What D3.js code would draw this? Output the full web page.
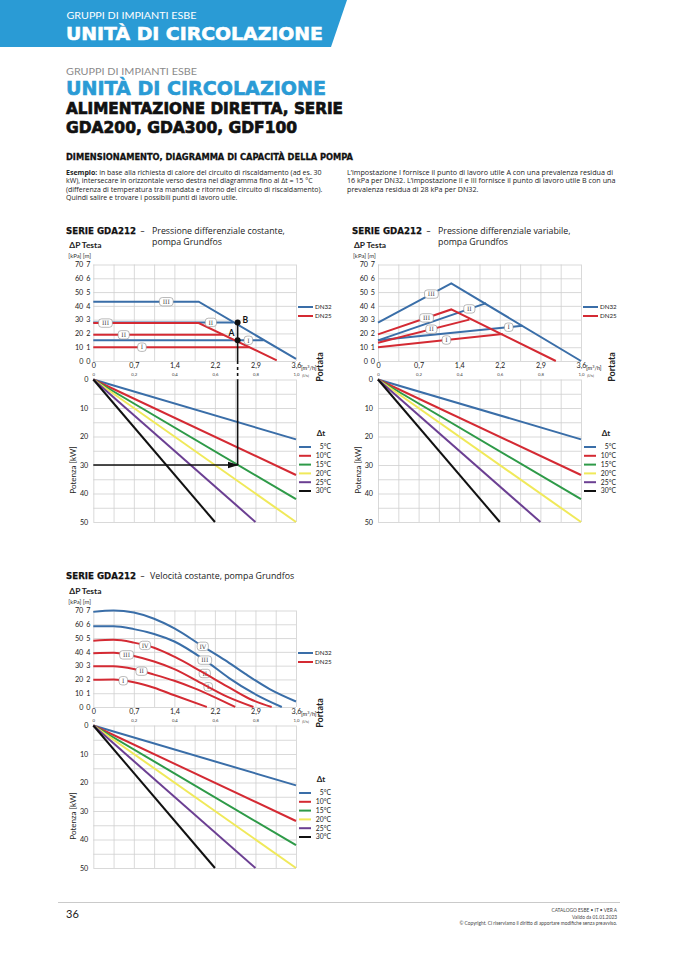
<!DOCTYPE html>
<html>
<head>
<meta charset="utf-8">
<script src="https://cdn.jsdelivr.net/npm/d3@7"></script>
<style>
  body { margin: 0; background: #fff; }
  svg { display: block; font-family: Lato, "Open Sans", sans-serif; }
  .grid line { stroke: #cfcfcf; stroke-width: 0.8; }
  .grid path { display: none; }
  .ax path { display: none; }
  .ax line { display: none; }
</style>
</head>
<body>
<svg id="page" width="678" height="959"></svg>
<script>
// ---- data ----
const flowTicks = [0, 0.2, 0.4, 0.6, 0.8, 1.0];            // l/s
const flowM3hLabels = ["0", "0,7", "1,4", "2,2", "2,9", "3,6"];
const flowLsLabels = ["0", "0,2", "0,4", "0,6", "0,8", "1,0"];
const flowGrid = [0, 0.1, 0.2, 0.3, 0.4, 0.5, 0.6, 0.7, 0.8, 0.9, 1.0];
const headTicks = [0, 10, 20, 30, 40, 50, 60, 70];          // kPa
const headMLabels = ["0", "1", "2", "3", "4", "5", "6", "7"];
const powerTicks = [0, 10, 20, 30, 40, 50];                 // kW
const powerGrid = [0, 5, 10, 15, 20, 25, 30, 35, 40, 45, 50];

const deltaT = ["5°C", "10°C", "15°C", "20°C", "25°C", "30°C"];
const deltaColors = ["#3a6ea8", "#d42a33", "#2e9a48", "#f0e95a", "#6b3f92", "#111111"];
// end point of each power line (flow l/s, power kW), all start at 0,0
const powerEnds = [[1.0, 21], [1.0, 33.5], [1.0, 42], [1.0, 50], [0.8, 50], [0.6, 50]];

const dnSeries = ["DN32", "DN25"];
const dnColors = ["#3a6ea8", "#d42a33"];

// constant differential pressure (flow l/s, head kPa)
const constDN32 = [
  { setting: "III", points: [[0, 43], [0.52, 43], [1.0, 1.5]], labelAt: 0.36 },
  { setting: "II",  points: [[0, 28], [0.69, 28]], labelAt: 0.58 },
  { setting: "I",   points: [[0, 15], [0.84, 15]], labelAt: 0.765 }
];
const constDN25 = [
  { setting: "III", points: [[0, 27.5], [0.52, 27.5], [0.905, 0.5]], labelAt: 0.06 },
  { setting: "II",  points: [[0, 19], [0.641, 19]], labelAt: 0.15 },
  { setting: "I",   points: [[0, 10], [0.77, 10]], labelAt: 0.24 }
];
const workPoints = [{ name: "A", flow: 0.712, head: 15 }, { name: "B", flow: 0.712, head: 28 }];
const examplePower = 30;

// variable differential pressure
const varDN32 = [
  { setting: "III", points: [[0, 27.8], [0.361, 56.3], [1.0, 0]], labelAt: 0.263 },
  { setting: "II",  points: [[0, 15], [0.533, 42]], labelAt: 0.45 },
  { setting: "I",   points: [[0, 15], [0.712, 25.5]], labelAt: 0.644 }
];
const varDN25 = [
  { setting: "III", points: [[0, 19.3], [0.361, 37.4], [0.876, 0]], labelAt: 0.239 },
  { setting: "II",  points: [[0, 13.3], [0.45, 30]], labelAt: 0.263 },
  { setting: "I",   points: [[0, 10], [0.614, 19.5]], labelAt: 0.337 }
];

// constant speed
const speedDN32 = [
  { setting: "IV",  points: [[0, 69], [0.1, 70], [0.2, 68.5], [0.3, 64], [0.4, 57], [0.54, 44], [0.65, 34], [0.75, 24], [0.87, 13], [1.0, 4]], labelAt: 0.54 },
  { setting: "III", points: [[0, 58.5], [0.1, 58.5], [0.2, 56.5], [0.3, 53], [0.4, 47.5], [0.55, 34], [0.67, 21], [0.79, 10], [0.93, 0]], labelAt: 0.55 }
];
const speedDN25 = [
  { setting: "IV",  points: [[0, 48], [0.1, 48.7], [0.2, 46.7], [0.3, 43], [0.4, 36.5], [0.53, 26], [0.66, 15], [0.77, 6], [0.88, 0]], labelAt: 0.255 },
  { setting: "III", points: [[0, 39], [0.1, 39.3], [0.2, 37], [0.3, 33], [0.4, 27.5], [0.53, 17.5], [0.66, 7.5], [0.79, 0]], labelAt: 0.164 },
  { setting: "II",  points: [[0, 29.5], [0.1, 29.5], [0.2, 27.5], [0.3, 23.5], [0.4, 19], [0.5, 13.5], [0.6, 7], [0.7, 0]], labelAt: 0.238 },
  { setting: "I",   points: [[0, 19.7], [0.1, 20], [0.2, 18], [0.3, 14], [0.4, 8.5], [0.56, 0]], labelAt: 0.148 }
];
// extra DN32 badges sitting on the DN25 curves (index into speedDN25)
const speedExtraLabels = [{ text: "II", curve: 0, at: 0.55 }, { text: "I", curve: 1, at: 0.567 }];

const BLUE = "#2a9bd5";
const svg = d3.select("#page");

// heavy heading text (stroke thickens DejaVu bold to look like the catalogue font)
function heading(x, y, size, fill, len, txt, sw) {
  return svg.append("text").attr("x", x).attr("y", y).attr("font-size", size).attr("font-weight", "bold")
    .attr("font-family", "DejaVu Sans").attr("fill", fill).attr("stroke", fill).attr("stroke-width", sw)
    .attr("textLength", len).attr("lengthAdjust", "spacingAndGlyphs").text(txt);
}

// ---- header ----
svg.append("path").attr("d", "M0,0H347L331,47H0Z").attr("fill", BLUE);
svg.append("text").attr("x", 66.5).attr("y", 19.3).attr("font-size", 9.5).attr("fill", "#fff")
  .attr("textLength", 130).attr("lengthAdjust", "spacingAndGlyphs").text("GRUPPI DI IMPIANTI ESBE");
heading(66, 39.5, 18.5, "#fff", 257, "UNITÀ DI CIRCOLAZIONE", 0.6);

svg.append("text").attr("x", 66).attr("y", 74.5).attr("font-size", 9.5).attr("fill", "#8a8a8a")
  .attr("textLength", 131).attr("lengthAdjust", "spacingAndGlyphs").text("GRUPPI DI IMPIANTI ESBE");
heading(66, 95, 19.5, BLUE, 260, "UNITÀ DI CIRCOLAZIONE", 0.6);
heading(66, 114, 16, "#111", 277, "ALIMENTAZIONE DIRETTA, SERIE", 0.7);
heading(66, 132.5, 16, "#111", 231, "GDA200, GDA300, GDF100", 0.7);
heading(66, 160, 9, "#111", 287, "DIMENSIONAMENTO, DIAGRAMMA DI CAPACITÀ DELLA POMPA", 0.3);

const leftPara = [
  "in base alla richiesta di calore del circuito di riscaldamento (ad es. 30",
  "kW), intersecare in orizzontale verso destra nel diagramma fino al Δt = 15 °C",
  "(differenza di temperatura tra mandata e ritorno del circuito di riscaldamento).",
  "Quindi salire e trovare i possibili punti di lavoro utile."
];
const rightPara = [
  "L’impostazione I fornisce il punto di lavoro utile A con una prevalenza residua di",
  "16 kPa per DN32. L’impostazione II e III fornisce il punto di lavoro utile B con una",
  "prevalenza residua di 28 kPa per DN32."
];
leftPara.forEach(function(line, i) {
  let t = svg.append("text").attr("x", 66).attr("y", 174.5 + i * 8.6).attr("font-size", 7)
    .attr("font-family", "Open Sans").attr("fill", "#222");
  if (i == 0) t.append("tspan").attr("font-weight", "bold").text("Esempio: ");
  t.append("tspan").text(line);
});
rightPara.forEach(function(line, i) {
  svg.append("text").attr("x", 347).attr("y", 174.5 + i * 8.6).attr("font-size", 7.2)
    .attr("font-family", "Open Sans").attr("fill", "#222").text(line);
});

// ---- helpers ----
function headAt(points, fx) {
  for (let i = 0; i < points.length - 1; i++) {
    let a = points[i], b = points[i + 1];
    if (fx >= a[0] && fx <= b[0]) return a[1] + (b[1] - a[1]) * (fx - a[0]) / (b[0] - a[0]);
  }
  return points[points.length - 1][1];
}

function badge(g, cx, cy, text) {
  let w = text.length * 2.6 + 6;
  let b = g.append("g").attr("transform", "translate(" + cx + "," + cy + ")");
  b.append("rect").attr("x", -w / 2).attr("y", -4.2).attr("width", w).attr("height", 8.4).attr("rx", 3)
    .attr("fill", "#fff").attr("stroke", "#8c8c8c").attr("stroke-width", 0.6);
  b.append("text").attr("text-anchor", "middle").attr("y", 2.2).attr("font-size", 6)
    .attr("font-family", "DejaVu Serif").attr("fill", "#444").text(text);
}

// ---- one chart block (head diagram + power diagram) ----
function drawChart(cfg) {
  const dy = cfg.dy;
  const g = svg.append("g");
  const headTop = 264.5 + dy, headBottom = 361 + dy;
  const powTop = 379.5 + dy, powBottom = 522 + dy;

  const x = d3.scaleLinear().domain([0, 1]).range([cfg.x0, cfg.x1]);
  const yHead = d3.scaleLinear().domain([0, 70]).range([headBottom, headTop]);
  const yPow = d3.scaleLinear().domain([0, 50]).range([powTop, powBottom]);

  // titles
  g.append("text").attr("x", cfg.titleX).attr("y", cfg.titleY).attr("font-size", 8.6).attr("font-weight", "bold")
    .attr("font-family", "DejaVu Sans").attr("fill", "#111").attr("stroke", "#111").attr("stroke-width", 0.25)
    .attr("textLength", 70).attr("lengthAdjust", "spacingAndGlyphs").text("SERIE GDA212");
  g.append("text").attr("x", cfg.titleX + 74).attr("y", cfg.titleY).attr("font-size", 8.6).attr("fill", "#111").text("–");
  cfg.subtitle.forEach(function(s, i) {
    g.append("text").attr("x", cfg.subX).attr("y", cfg.titleY + i * 11).attr("font-size", 8.8)
      .attr("font-family", "Open Sans").attr("fill", "#222").text(s);
  });
  g.append("text").attr("x", cfg.x0 - 24).attr("y", headTop - 17).attr("font-size", 8.4).attr("font-weight", "bold")
    .attr("fill", "#222").text("ΔP Testa");
  g.append("text").attr("x", cfg.x0 - 25).attr("y", headTop - 6.5).attr("font-size", 6).attr("fill", "#333").text("[kPa] [m]");

  // grids
  g.append("g").attr("class", "grid").attr("transform", "translate(0," + headBottom + ")")
    .call(d3.axisBottom(x).tickValues(flowGrid).tickSize(-(headBottom - headTop)).tickFormat(""));
  g.append("g").attr("class", "grid").attr("transform", "translate(" + cfg.x0 + ",0)")
    .call(d3.axisLeft(yHead).tickValues(headTicks).tickSize(-(cfg.x1 - cfg.x0)).tickFormat(""));
  g.append("g").attr("class", "grid").attr("transform", "translate(0," + powBottom + ")")
    .call(d3.axisBottom(x).tickValues(flowGrid).tickSize(-(powBottom - powTop)).tickFormat(""));
  g.append("g").attr("class", "grid").attr("transform", "translate(" + cfg.x0 + ",0)")
    .call(d3.axisLeft(yPow).tickValues(powerGrid).tickSize(-(cfg.x1 - cfg.x0)).tickFormat(""));

  // axes labels
  g.append("g").attr("class", "ax").attr("transform", "translate(" + (cfg.x0 - 10) + ",0)")
    .call(d3.axisLeft(yHead).tickValues(headTicks).tickSize(0).tickPadding(0))
    .selectAll("text").attr("font-size", 7.2).attr("fill", "#222").attr("font-family", "Lato");
  g.append("g").attr("class", "ax").attr("transform", "translate(" + (cfg.x0 - 3) + ",0)")
    .call(d3.axisLeft(yHead).tickValues(headTicks).tickSize(0).tickPadding(0).tickFormat((d, i) => headMLabels[i]))
    .selectAll("text").attr("font-size", 7.2).attr("fill", "#222").attr("font-family", "Lato");
  g.append("g").attr("class", "ax").attr("transform", "translate(0," + (headBottom + 2) + ")")
    .call(d3.axisBottom(x).tickValues(flowTicks).tickSize(0).tickPadding(0).tickFormat((d, i) => flowM3hLabels[i]))
    .selectAll("text").attr("font-size", 7.2).attr("fill", "#222").attr("font-family", "Lato");
  g.append("g").attr("class", "ax").attr("transform", "translate(0," + (headBottom + 12) + ")")
    .call(d3.axisBottom(x).tickValues(flowTicks).tickSize(0).tickPadding(0).tickFormat((d, i) => flowLsLabels[i]))
    .selectAll("text").attr("font-size", 4.3).attr("fill", "#444").attr("font-family", "Lato");
  g.append("text").attr("x", cfg.x1 + 5).attr("y", headBottom + 8.5).attr("font-size", 5.6).attr("fill", "#222")
    .html("[m<tspan dy='-2' font-size='3.8'>3</tspan><tspan dy='2'>/h]</tspan>");
  g.append("text").attr("x", cfg.x1 + 6).attr("y", headBottom + 15.5).attr("font-size", 4.3).attr("fill", "#444").text("[l/s]");
  g.append("g").attr("class", "ax").attr("transform", "translate(" + (cfg.x0 - 5) + ",0)")
    .call(d3.axisLeft(yPow).tickValues(powerTicks).tickSize(0).tickPadding(0))
    .selectAll("text").attr("font-size", 7.2).attr("fill", "#222").attr("font-family", "Lato");

  g.append("text").attr("transform", "translate(" + (cfg.x1 + cfg.portataDx) + "," + (367 + dy) + ") rotate(-90)")
    .attr("text-anchor", "middle").attr("font-size", 9).attr("font-weight", "bold").attr("fill", "#222").text("Portata");
  g.append("text").attr("transform", "translate(" + (cfg.x0 - 17) + "," + (470 + dy) + ") rotate(-90)")
    .attr("text-anchor", "middle").attr("font-size", 8).attr("fill", "#222").text("Potenza [kW]");

  // power lines
  const powLine = d3.line().x(d => x(d[0])).y(d => yPow(d[1]));
  g.selectAll(".pw").data(powerEnds).enter().append("path")
    .attr("d", d => powLine([[0, 0], d]))
    .attr("fill", "none").attr("stroke", (d, i) => deltaColors[i]).attr("stroke-width", 2);

  // head curves
  const headLine = d3.line().x(d => x(d[0])).y(d => yHead(d[1]))
    .curve(cfg.smooth ? d3.curveMonotoneX : d3.curveLinear);
  const groups = [cfg.dn32, cfg.dn25];
  if (cfg.extra) {
    cfg.extra.forEach(function(e) {
      let c = cfg.dn25[e.curve];
      badge(g, x(e.at), yHead(headAt(c.points, e.at)), e.text);
    });
  }
  groups.forEach(function(set, si) {
    set.forEach(function(c) {
      g.append("path").attr("d", headLine(c.points)).attr("fill", "none")
        .attr("stroke", dnColors[si]).attr("stroke-width", 2);
    });
  });
  groups.forEach(function(set) {
    set.forEach(function(c) {
      badge(g, x(c.labelAt), yHead(headAt(c.points, c.labelAt)), c.setting);
    });
  });

  // legends
  dnSeries.forEach(function(s, i) {
    let yy = 307 + dy + i * 9;
    g.append("line").attr("x1", cfg.x1 + 2).attr("x2", cfg.x1 + 17).attr("y1", yy).attr("y2", yy)
      .attr("stroke", dnColors[i]).attr("stroke-width", 2);
    g.append("text").attr("x", cfg.x1 + 19).attr("y", yy + 2.2).attr("font-size", 6.2).attr("fill", "#222").text(s);
  });
  g.append("text").attr("x", cfg.x1 + 25).attr("y", 436 + dy).attr("text-anchor", "middle")
    .attr("font-size", 8).attr("font-weight", "bold").attr("fill", "#222").text("Δt");
  deltaT.forEach(function(s, i) {
    let yy = 447 + dy + i * 8.8;
    g.append("line").attr("x1", cfg.x1 + 3).attr("x2", cfg.x1 + 15).attr("y1", yy).attr("y2", yy)
      .attr("stroke", deltaColors[i]).attr("stroke-width", 2);
    g.append("text").attr("x", cfg.x1 + 35).attr("y", yy + 2.4).attr("text-anchor", "end")
      .attr("font-size", 6.8).attr("fill", "#222").text(s);
  });

  // worked example
  if (cfg.example) {
    const fx = x(workPoints[0].flow);
    const top = d3.max(workPoints, d => d.head);
    g.append("defs").append("marker").attr("id", "arrow").attr("viewBox", "0 0 10 6")
      .attr("refX", 9).attr("refY", 3).attr("markerWidth", 7).attr("markerHeight", 4.5).attr("orient", "auto")
      .append("path").attr("d", "M0,0L10,3L0,6Z").attr("fill", "#111");
    g.append("line").attr("x1", fx).attr("x2", fx).attr("y1", yHead(top)).attr("y2", yHead(0))
      .attr("stroke", "#111").attr("stroke-width", 1.6);
    g.append("line").attr("x1", fx).attr("x2", fx).attr("y1", yHead(0)).attr("y2", yPow(0))
      .attr("stroke", "#111").attr("stroke-width", 1.6).attr("stroke-dasharray", "3,3");
    g.append("line").attr("x1", fx).attr("x2", fx).attr("y1", yPow(0)).attr("y2", yPow(examplePower))
      .attr("stroke", "#111").attr("stroke-width", 1.6);
    g.append("line").attr("x1", x(0)).attr("x2", fx).attr("y1", yPow(examplePower)).attr("y2", yPow(examplePower))
      .attr("stroke", "#111").attr("stroke-width", 1.6).attr("marker-end", "url(#arrow)");
    workPoints.forEach(function(p) {
      g.append("circle").attr("cx", x(p.flow)).attr("cy", yHead(p.head)).attr("r", 3).attr("fill", "#111");
    });
    g.append("text").attr("x", fx - 9).attr("y", yHead(workPoints[0].head) - 4).attr("font-size", 8.5)
      .attr("font-weight", "bold").attr("fill", "#111").text("A");
    g.append("text").attr("x", fx + 5).attr("y", yHead(workPoints[1].head) + 1).attr("font-size", 8.5)
      .attr("font-weight", "bold").attr("fill", "#111").text("B");
  }
}

drawChart({ dy: 0, x0: 93.3, x1: 296, titleX: 66, subX: 152, titleY: 234, portataDx: 27,
  subtitle: ["Pressione differenziale costante,", "pompa Grundfos"],
  dn32: constDN32, dn25: constDN25, smooth: false, example: true });
drawChart({ dy: 0, x0: 378, x1: 581, titleX: 352, subX: 438, titleY: 234, portataDx: 34,
  subtitle: ["Pressione differenziale variabile,", "pompa Grundfos"],
  dn32: varDN32, dn25: varDN25, smooth: false, example: false });
drawChart({ dy: 346, x0: 93.3, x1: 296, titleX: 66, subX: 150, titleY: 579, portataDx: 27,
  subtitle: ["Velocità costante, pompa Grundfos"],
  dn32: speedDN32, dn25: speedDN25, smooth: true, example: false, extra: speedExtraLabels });

// ---- footer ----
svg.append("line").attr("x1", 58).attr("x2", 620).attr("y1", 902.5).attr("y2", 902.5)
  .attr("stroke", "#bdbdbd").attr("stroke-width", 0.8);
svg.append("text").attr("x", 66).attr("y", 918).attr("font-size", 11).attr("fill", "#222").text("36");
const footerLines = ["CATALOGO ESBE • IT • VER A", "Valido da 01.01.2023",
  "© Copyright. Ci riserviamo il diritto di apportare modifiche senza preavviso."];
footerLines.forEach(function(s, i) {
  svg.append("text").attr("x", 617).attr("y", 912 + i * 6.5).attr("text-anchor", "end")
    .attr("font-size", 4.8).attr("fill", "#444").text(s);
});
</script>
</body>
</html>
